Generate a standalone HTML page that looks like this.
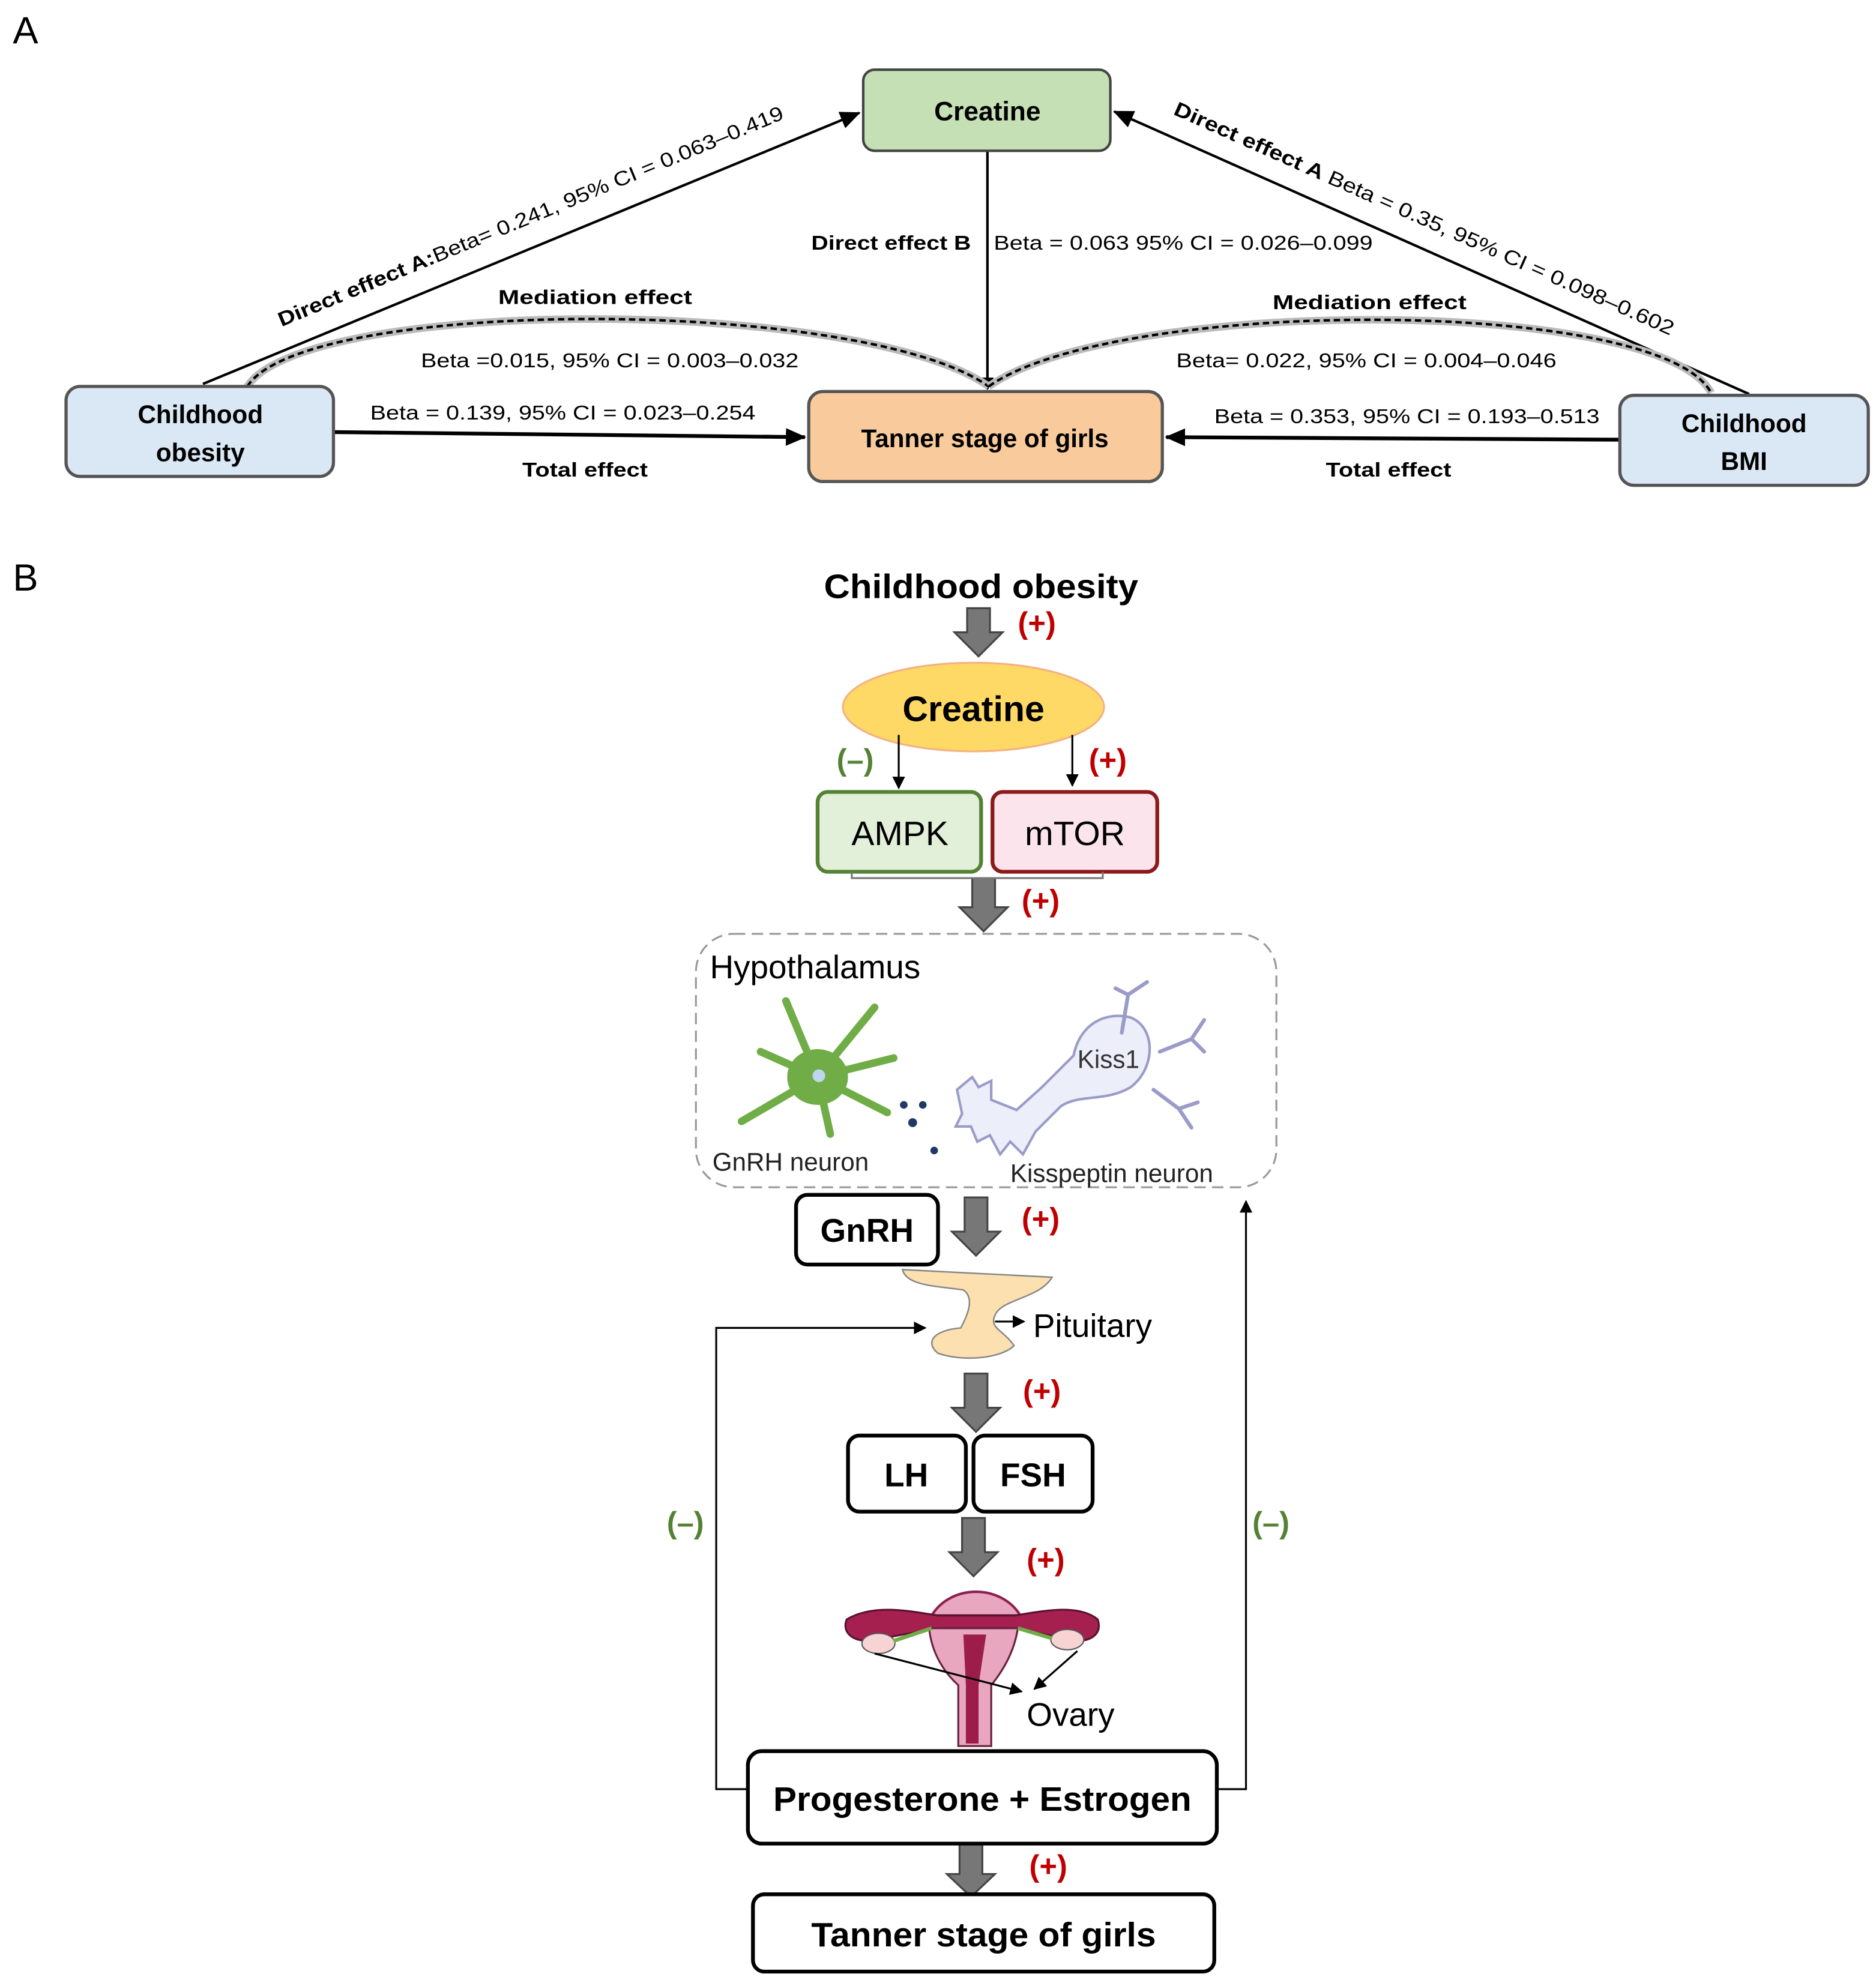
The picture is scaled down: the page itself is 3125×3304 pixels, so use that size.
<!DOCTYPE html>
<html><head><meta charset="utf-8">
<style>
html,body{margin:0;padding:0;background:#fff;}
svg{display:block;}
text{font-family:"Liberation Sans",sans-serif;}
</style></head>
<body>
<svg width="3125" height="3304" viewBox="0 0 1480 1565" xmlns="http://www.w3.org/2000/svg">
<defs>
<marker id="ah" markerWidth="10" markerHeight="10" refX="9" refY="5" orient="auto" markerUnits="userSpaceOnUse"><path d="M0,0 L10,5 L0,10 z" fill="#000"/></marker>
<marker id="ahb" markerWidth="16" markerHeight="14" refX="15" refY="7" orient="auto" markerUnits="userSpaceOnUse"><path d="M0,0 L16,7 L0,14 z" fill="#000"/></marker>
</defs>
<rect width="1480" height="1565" fill="#fff"/>

<!-- Panel A -->
<text x="10" y="34" font-size="30">A</text>

<line x1="160" y1="303" x2="678" y2="89" stroke="#000" stroke-width="2" marker-end="url(#ahb)"/>
<line x1="1380" y1="311" x2="879" y2="88" stroke="#000" stroke-width="2" marker-end="url(#ahb)"/>
<line x1="779" y1="119" x2="779" y2="307" stroke="#000" stroke-width="2" marker-end="url(#ah)"/>
<line x1="263" y1="341" x2="635" y2="345" stroke="#000" stroke-width="3" marker-end="url(#ahb)"/>
<line x1="1278" y1="347" x2="920" y2="345" stroke="#000" stroke-width="3" marker-end="url(#ahb)"/>

<path d="M195,305 C240,234 680,234 780,305" fill="none" stroke="#bbb" stroke-width="6"/>
<path d="M195,305 C240,234 680,234 780,305" fill="none" stroke="#000" stroke-width="2" stroke-dasharray="5,3"/>
<path d="M780,305 C880,234 1310,234 1350,310" fill="none" stroke="#bbb" stroke-width="6"/>
<path d="M780,305 C880,234 1310,234 1350,310" fill="none" stroke="#000" stroke-width="2" stroke-dasharray="5,3"/>

<rect x="681" y="55" width="195" height="64" rx="9" fill="#c5e0b4" stroke="#444" stroke-width="2"/>
<text x="779" y="95" font-size="21" font-weight="bold" text-anchor="middle">Creatine</text>
<rect x="52" y="305" width="211" height="71" rx="11" fill="#dae8f6" stroke="#555" stroke-width="2.5"/>
<text x="158" y="334" font-size="20" font-weight="bold" text-anchor="middle">Childhood</text>
<text x="158" y="364" font-size="20" font-weight="bold" text-anchor="middle">obesity</text>
<rect x="638" y="309" width="279" height="71" rx="11" fill="#f9cb9c" stroke="#555" stroke-width="2.5"/>
<text x="777" y="353" font-size="20" font-weight="bold" text-anchor="middle">Tanner stage of girls</text>
<rect x="1278" y="312" width="196" height="71" rx="11" fill="#dae8f6" stroke="#555" stroke-width="2.5"/>
<text x="1376" y="341" font-size="20" font-weight="bold" text-anchor="middle">Childhood</text>
<text x="1376" y="371" font-size="20" font-weight="bold" text-anchor="middle">BMI</text>

<g transform="translate(222,258) rotate(-22.5)">
<text x="0" y="0" font-size="16" textLength="430" lengthAdjust="spacingAndGlyphs"><tspan font-weight="bold">Direct effect A:</tspan>Beta= 0.241, 95% CI = 0.063–0.419</text>
</g>
<g transform="translate(925,90) rotate(24)">
<text x="0" y="0" font-size="16" textLength="430" lengthAdjust="spacingAndGlyphs"><tspan font-weight="bold">Direct effect A</tspan> Beta = 0.35, 95% CI = 0.098–0.602</text>
</g>
<text x="766" y="197" font-size="16" font-weight="bold" text-anchor="end" textLength="126" lengthAdjust="spacingAndGlyphs">Direct effect B</text>
<text x="784" y="197" font-size="16" textLength="299" lengthAdjust="spacingAndGlyphs">Beta = 0.063 95% CI = 0.026–0.099</text>
<text x="393" y="240" font-size="16" font-weight="bold" textLength="153" lengthAdjust="spacingAndGlyphs">Mediation  effect</text>
<text x="332" y="290" font-size="16" textLength="298" lengthAdjust="spacingAndGlyphs">Beta =0.015, 95% CI = 0.003–0.032</text>
<text x="1004" y="244" font-size="16" font-weight="bold" textLength="153" lengthAdjust="spacingAndGlyphs">Mediation  effect</text>
<text x="928" y="290" font-size="16" textLength="300" lengthAdjust="spacingAndGlyphs">Beta= 0.022, 95% CI = 0.004–0.046</text>
<text x="292" y="331" font-size="16" textLength="304" lengthAdjust="spacingAndGlyphs">Beta = 0.139, 95% CI = 0.023–0.254</text>
<text x="412" y="376" font-size="16" font-weight="bold" textLength="99" lengthAdjust="spacingAndGlyphs">Total effect</text>
<text x="958" y="334" font-size="16" textLength="304" lengthAdjust="spacingAndGlyphs">Beta = 0.353, 95% CI = 0.193–0.513</text>
<text x="1046" y="376" font-size="16" font-weight="bold" textLength="99" lengthAdjust="spacingAndGlyphs">Total effect</text>

<!-- Panel B -->
<text x="10" y="466" font-size="30">B</text>
<text x="774" y="472" font-size="27" font-weight="bold" text-anchor="middle" textLength="248" lengthAdjust="spacingAndGlyphs">Childhood obesity</text>

<g fill="#777" stroke="#444" stroke-width="1.5">
<path d="M763,480 h18 v19 h10 l-19,19 l-19,-19 h10 z"/>
<path d="M767,693 h18 v23 h10 l-19,19 l-19,-19 h10 z"/>
<path d="M761,945 h18 v27 h10 l-19,19 l-19,-19 h10 z"/>
<path d="M761,1084 h18 v27 h10 l-19,19 l-19,-19 h10 z"/>
<path d="M759,1198 h18 v27 h10 l-19,19 l-19,-19 h10 z"/>
<path d="M757,1453 h18 v26 h10 l-19,18 l-19,-18 h10 z"/>
</g>
<g font-size="24" font-weight="bold" fill="#c00000">
<text x="803" y="500">(+)</text>
<text x="859" y="608">(+)</text>
<text x="806" y="719">(+)</text>
<text x="806" y="970">(+)</text>
<text x="807" y="1106">(+)</text>
<text x="810" y="1239">(+)</text>
<text x="812" y="1481">(+)</text>
</g>
<g font-size="24" font-weight="bold" fill="#548235">
<text x="660" y="608">(–)</text>
<text x="526" y="1210">(–)</text>
<text x="988" y="1210">(–)</text>
</g>

<ellipse cx="768" cy="558" rx="103" ry="35" fill="#ffd966" stroke="#f4b183" stroke-width="1.5"/>
<text x="768" y="569" font-size="28" font-weight="bold" text-anchor="middle">Creatine</text>
<line x1="709" y1="580" x2="709" y2="622" stroke="#000" stroke-width="1.5" marker-end="url(#ah)"/>
<line x1="846" y1="580" x2="846" y2="620" stroke="#000" stroke-width="1.5" marker-end="url(#ah)"/>

<rect x="645" y="625" width="129" height="63" rx="8" fill="#e2efd9" stroke="#548235" stroke-width="3"/>
<text x="710" y="667" font-size="27" text-anchor="middle">AMPK</text>
<rect x="783" y="625" width="130" height="63" rx="8" fill="#fce4ec" stroke="#8b1a1a" stroke-width="3"/>
<text x="848" y="667" font-size="27" text-anchor="middle">mTOR</text>
<path d="M672,688 v5 h198 v-5" fill="none" stroke="#777" stroke-width="1.5"/>

<rect x="549" y="737" width="458" height="200" rx="30" fill="none" stroke="#999" stroke-width="1.5" stroke-dasharray="9,5"/>
<text x="560" y="772" font-size="26">Hypothalamus</text>
<g stroke="#70ad47" stroke-linecap="round" fill="none" stroke-width="6">
<line x1="645" y1="850" x2="620" y2="790"/>
<line x1="645" y1="850" x2="690" y2="795"/>
<line x1="645" y1="850" x2="600" y2="830"/>
<line x1="645" y1="850" x2="585" y2="885"/>
<line x1="645" y1="850" x2="655" y2="895"/>
<line x1="645" y1="850" x2="700" y2="878"/>
<line x1="645" y1="850" x2="705" y2="835"/>
</g>
<ellipse cx="645" cy="850" rx="24" ry="22" fill="#70ad47"/>
<circle cx="646" cy="849" r="5" fill="#bdd7ee"/>
<g fill="#1f3864"><circle cx="713" cy="872" r="3"/><circle cx="728" cy="872" r="3"/><circle cx="720" cy="886" r="3.5"/><circle cx="737" cy="908" r="3"/></g>
<g fill="#eceefa" stroke="#9a9cc8" stroke-width="2">
<path d="M755,860 l12,-10 l5,8 l10,-5 l0,15 l20,8 l20,-18 l25,-25 c5,-25 25,-35 45,-30 c20,8 20,40 0,55 c-20,12 -40,5 -55,15 l-20,20 l-10,18 l-10,-10 l-8,10 l-8,-15 l-10,5 l-5,-12 l-12,0 l5,-10 z"/>
</g>
<g stroke="#9a9cc8" stroke-width="3" fill="none" stroke-linecap="round">
<path d="M885,815 l5,-30 l15,-10 M890,785 l-10,-5"/>
<path d="M915,830 l25,-10 l10,-15 M940,820 l10,10"/>
<path d="M910,860 l20,15 l10,15 M930,875 l15,-5"/>
</g>
<text x="850" y="843" font-size="20" fill="#333">Kiss1</text>
<text x="562" y="924" font-size="20" fill="#222">GnRH neuron</text>
<text x="797" y="933" font-size="20" fill="#222">Kisspeptin neuron</text>

<rect x="628" y="943" width="112" height="55" rx="9" fill="#fff" stroke="#000" stroke-width="3"/>
<text x="684" y="980" font-size="26" font-weight="bold" text-anchor="middle">GnRH</text>

<path d="M712,1002 C715,1015 740,1015 760,1018 C770,1025 762,1040 758,1048 C735,1050 730,1060 740,1068 C760,1075 790,1072 800,1062 C792,1050 780,1048 785,1038 C790,1025 820,1025 830,1008 z" fill="#fde0b0" stroke="#888" stroke-width="1.2"/>
<line x1="785" y1="1043" x2="808" y2="1043" stroke="#000" stroke-width="1.5" marker-end="url(#ah)"/>
<text x="815" y="1055" font-size="26">Pituitary</text>

<path d="M590,1412 H565 V1048 H730" fill="none" stroke="#000" stroke-width="1.5" marker-end="url(#ah)"/>
<path d="M960,1412 H983 V948" fill="none" stroke="#000" stroke-width="1.5" marker-end="url(#ah)"/>

<rect x="669" y="1133" width="93" height="60" rx="9" fill="#fff" stroke="#000" stroke-width="3"/>
<text x="715" y="1173" font-size="26" font-weight="bold" text-anchor="middle">LH</text>
<rect x="768" y="1133" width="94" height="60" rx="9" fill="#fff" stroke="#000" stroke-width="3"/>
<text x="815" y="1173" font-size="26" font-weight="bold" text-anchor="middle">FSH</text>

<path d="M735,1275 C750,1250 790,1250 805,1275 z" fill="#e8a7bf" stroke="#8b2050" stroke-width="2"/>
<path d="M668,1278 C690,1265 720,1272 740,1275 L800,1275 C820,1272 850,1265 866,1278 C870,1290 860,1295 850,1295 L800,1285 L740,1285 L685,1295 C672,1295 664,1288 668,1278 z" fill="#a5204f" stroke="#5a1030" stroke-width="1.5"/>
<path d="M733,1285 L803,1285 C800,1305 790,1320 782,1330 L782,1378 L756,1378 L756,1330 C745,1320 735,1305 733,1285 z" fill="#e8a7bf" stroke="#6a2040" stroke-width="1.5"/>
<path d="M760,1290 L778,1290 L772,1330 L772,1376 L762,1376 L762,1330 z" fill="#9c1d4a"/>
<ellipse cx="693" cy="1297" rx="13" ry="8" fill="#f8d3d3" stroke="#555"/>
<ellipse cx="842" cy="1294" rx="13" ry="8" fill="#f8d3d3" stroke="#555"/>
<line x1="705" y1="1295" x2="735" y2="1285" stroke="#70ad47" stroke-width="3"/>
<line x1="803" y1="1285" x2="830" y2="1293" stroke="#70ad47" stroke-width="3"/>
<line x1="690" y1="1305" x2="806" y2="1335" stroke="#000" stroke-width="1.5" marker-end="url(#ah)"/>
<line x1="850" y1="1303" x2="816" y2="1333" stroke="#000" stroke-width="1.5" marker-end="url(#ah)"/>
<text x="810" y="1362" font-size="26">Ovary</text>

<rect x="590" y="1382" width="370" height="73" rx="11" fill="#fff" stroke="#000" stroke-width="3"/>
<text x="775" y="1429" font-size="27" font-weight="bold" text-anchor="middle" textLength="330" lengthAdjust="spacingAndGlyphs">Progesterone + Estrogen</text>
<rect x="594" y="1495" width="364" height="61" rx="9" fill="#fff" stroke="#000" stroke-width="3"/>
<text x="776" y="1536" font-size="27" font-weight="bold" text-anchor="middle" textLength="272" lengthAdjust="spacingAndGlyphs">Tanner stage of girls</text>
</svg>
</body></html>
